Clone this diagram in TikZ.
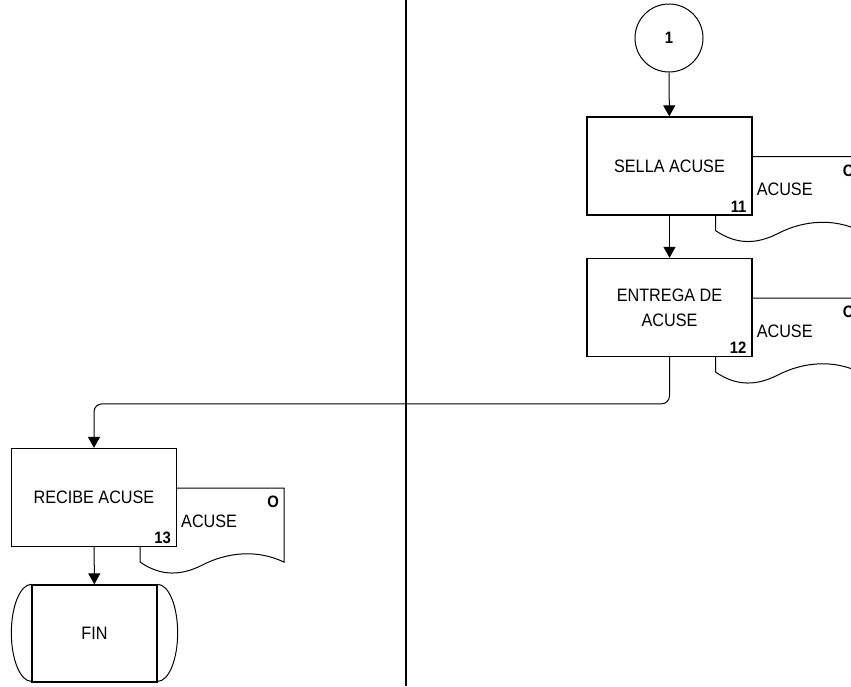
\documentclass[tikz,border=0pt]{standalone}
\usepackage{fontspec}
\setmainfont[FakeStretch=0.9]{Liberation Sans}
\usetikzlibrary{arrows.meta,backgrounds}
\newcommand\acusedoc[1]{%
  \begin{scope}[on background layer,shift={(#1.south east)}]
    \draw[line width=1pt,fill=white] (-37,0) -- (-37,15)
      .. controls (-15,30) and (5,28) .. (25,18)
      .. controls (50,5) and (80,2) .. (107,15) -- (107,-59) -- (-37,-59) -- cycle;
    \node[txt] (#1doc) at (32,-26) {ACUSE};
    \node[num] (#1o) at (96,-45) {O};
  \end{scope}}
\begin{document}
\begin{tikzpicture}[x=1pt,y=-1pt,
  txt/.style={font=\fontsize{18}{25}\selectfont,inner sep=0pt},
  proc/.style={draw,line width=1.3pt,fill=white,minimum width=165pt,minimum height=98pt,align=center,txt},
  num/.style={font=\fontsize{16.5}{16.5}\selectfont\bfseries,inner sep=0pt},
  flow/.style={line width=1pt,-{Triangle[length=11pt,width=12pt]}}]
  \useasboundingbox (0,0) rectangle (851,686);
  \clip (0,0) rectangle (851,686);
  \draw[line width=1.8pt] (406,0) -- (406,686);
  \node[draw,circle,line width=1pt,minimum size=68pt,num] (c1) at (669,38) {1};
  \node[proc] (sel) at (669.5,166) {SELLA ACUSE};
  \node[proc] (ent) at (669.5,307.5) {ENTREGA DE\\ACUSE};
  \node[proc] (rec) at (94,497.5) {RECIBE ACUSE};
  \node[draw,line width=1.3pt,minimum width=125pt,minimum height=97pt,txt] (fin) at (94.5,633.5) {FIN};
  \draw[line width=1pt] (fin.north west) arc[start angle=90,end angle=270,x radius=20pt,y radius=48.5pt];
  \draw[line width=1pt] (fin.north east) arc[start angle=90,end angle=-90,x radius=20pt,y radius=48.5pt];
  \node[num,anchor=south east] (n11) at ([xshift=-6pt,yshift=3pt]sel.south east) {11};
  \node[num,anchor=south east] (n12) at ([xshift=-6pt,yshift=3pt]ent.south east) {12};
  \node[num,anchor=south east] (n13) at ([xshift=-6pt,yshift=3pt]rec.south east) {13};
  \acusedoc{sel}
  \acusedoc{ent}
  \acusedoc{rec}
  \draw[flow] (c1) -- (sel);
  \draw[flow] (sel) -- (ent);
  \draw[flow,rounded corners=8pt] (ent.south) |- ([yshift=44pt]rec.north) -- (rec.north);
  \draw[flow] (rec) -- (fin);
\end{tikzpicture}
\end{document}
